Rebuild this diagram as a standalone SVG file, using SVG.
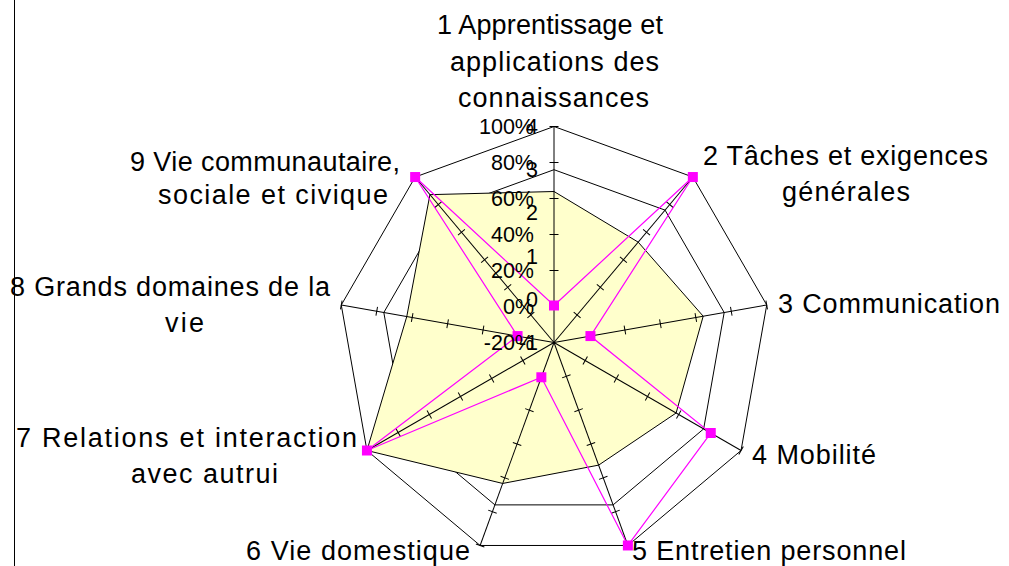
<svg xmlns="http://www.w3.org/2000/svg" xmlns:xlink="http://www.w3.org/1999/xlink" width="1009" height="566" viewBox="0 0 1009 566">
<style>
.grid{fill:none;stroke:#000;stroke-width:1}
.area{fill:#FFFFCC;stroke:#000;stroke-width:1}
.ser{fill:none;stroke:#FF00FF;stroke-width:1.2}
.mk{fill:#FF00FF;stroke:none}
.ax{font-family:'Liberation Sans',Arial,sans-serif;font-size:21.5px;fill:#000;text-anchor:end}
.cat{font-family:'Liberation Sans',Arial,sans-serif;font-size:27px;fill:#000}
</style>
<defs>
<g id="spoke" stroke="#000" stroke-width="1">
<line x1="554" y1="342.5" x2="554" y2="126.5"/>
<line x1="549.5" y1="306.5" x2="558.5" y2="306.5"/>
<line x1="549.5" y1="270.5" x2="558.5" y2="270.5"/>
<line x1="549.5" y1="234.5" x2="558.5" y2="234.5"/>
<line x1="549.5" y1="198.5" x2="558.5" y2="198.5"/>
<line x1="549.5" y1="162.5" x2="558.5" y2="162.5"/>
<line x1="549.5" y1="126.5" x2="558.5" y2="126.5"/>
</g>
</defs>
<rect width="1009" height="566" fill="#fff"/>
<line x1="14.5" y1="0" x2="14.5" y2="566" stroke="#000" stroke-width="1"/>
<g id="grid-inner">
<polygon class="grid" points="554,169.7 665.07,210.13 724.18,312.49 703.65,428.9 613.1,504.88 494.9,504.88 404.35,428.9 383.82,312.49 442.93,210.13"/>
</g>
<g id="series-area">
<polygon class="area" points="554,191.5 638.21,242.15 703.2,316.19 676.11,413 598.63,465.13 502.7,483.45 366.94,450.5 406.77,316.54 429.94,194.65"/>
</g>
<g id="grid-outer">
<polygon class="grid" points="554,126.5 692.84,177.03 766.72,304.99 741.06,450.5 627.88,545.47 480.12,545.47 366.94,450.5 341.28,304.99 415.16,177.03"/>
</g>
<g id="connectors">
<use xlink:href="#spoke"/>
<use xlink:href="#spoke" transform="rotate(40 554 342.5)"/>
<use xlink:href="#spoke" transform="rotate(80 554 342.5)"/>
<use xlink:href="#spoke" transform="rotate(120 554 342.5)"/>
<use xlink:href="#spoke" transform="rotate(160 554 342.5)"/>
<use xlink:href="#spoke" transform="rotate(200 554 342.5)"/>
<use xlink:href="#spoke" transform="rotate(240 554 342.5)"/>
<use xlink:href="#spoke" transform="rotate(280 554 342.5)"/>
<use xlink:href="#spoke" transform="rotate(320 554 342.5)"/>
</g>
<g id="series-line">
<polygon class="ser" points="554,305.5 692.84,177.03 590.44,336.07 710.75,433 627.88,545.47 541.35,377.27 366.94,450.5 517.56,336.07 415.16,177.03"/>
<rect class="mk" x="549" y="300.5" width="10" height="10"/>
<rect class="mk" x="687.84" y="172.03" width="10" height="10"/>
<rect class="mk" x="585.44" y="331.07" width="10" height="10"/>
<rect class="mk" x="705.75" y="428" width="10" height="10"/>
<rect class="mk" x="622.88" y="540.47" width="10" height="10"/>
<rect class="mk" x="536.35" y="372.27" width="10" height="10"/>
<rect class="mk" x="361.94" y="445.5" width="10" height="10"/>
<rect class="mk" x="512.56" y="331.07" width="10" height="10"/>
<rect class="mk" x="410.16" y="172.03" width="10" height="10"/>
</g>
<g id="axis-percent">
<text class="ax" x="534" y="134">100%</text>
<text class="ax" x="534" y="170">80%</text>
<text class="ax" x="534" y="206">60%</text>
<text class="ax" x="534" y="242">40%</text>
<text class="ax" x="534" y="278">20%</text>
<text class="ax" x="534" y="314">0%</text>
<text class="ax" x="534" y="350">-20%</text>
</g>
<g id="axis-values">
<text class="ax" x="538" y="134">4</text>
<text class="ax" x="538" y="177">3</text>
<text class="ax" x="538" y="220">2</text>
<text class="ax" x="538" y="264">1</text>
<text class="ax" x="538" y="307">0</text>
<text class="ax" x="538" y="350">-1</text>
</g>
<g id="label-1">
<text class="cat" x="437" y="34" textLength="226" lengthAdjust="spacing">1 Apprentissage et</text>
<text class="cat" x="450" y="71" textLength="209" lengthAdjust="spacing">applications des</text>
<text class="cat" x="458" y="107" textLength="191" lengthAdjust="spacing">connaissances</text>
</g>
<g id="label-2">
<text class="cat" x="703" y="165" textLength="285" lengthAdjust="spacing">2 Tâches et exigences</text>
<text class="cat" x="782" y="201" textLength="128" lengthAdjust="spacing">générales</text>
</g>
<g id="label-3">
<text class="cat" x="778" y="313" textLength="222" lengthAdjust="spacing">3 Communication</text>
</g>
<g id="label-4">
<text class="cat" x="752" y="464" textLength="124" lengthAdjust="spacing">4 Mobilité</text>
</g>
<g id="label-5">
<text class="cat" x="632" y="560" textLength="274" lengthAdjust="spacing">5 Entretien personnel</text>
</g>
<g id="label-6">
<text class="cat" x="246" y="560" textLength="224" lengthAdjust="spacing">6 Vie domestique</text>
</g>
<g id="label-7">
<text class="cat" x="16" y="447" textLength="341" lengthAdjust="spacing">7 Relations et interaction</text>
<text class="cat" x="131" y="483" textLength="147" lengthAdjust="spacing">avec autrui</text>
</g>
<g id="label-8">
<text class="cat" x="10" y="296" textLength="320" lengthAdjust="spacing">8 Grands domaines de la</text>
<text class="cat" x="165" y="332" textLength="39" lengthAdjust="spacing">vie</text>
</g>
<g id="label-9">
<text class="cat" x="130" y="171" textLength="270" lengthAdjust="spacing">9 Vie communautaire,</text>
<text class="cat" x="158" y="204" textLength="230" lengthAdjust="spacing">sociale et civique</text>
</g>
</svg>
